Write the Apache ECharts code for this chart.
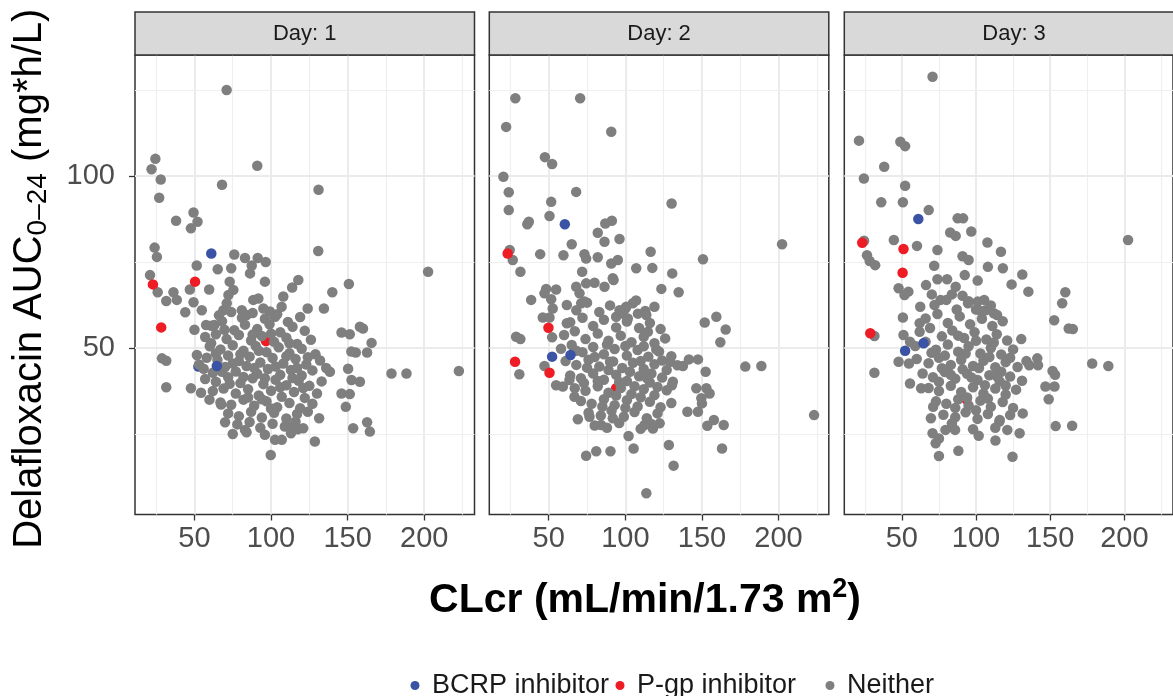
<!DOCTYPE html>
<html><head><meta charset="utf-8">
<script src="https://cdn.jsdelivr.net/npm/echarts@6/dist/echarts.min.js"></script>
<style>html,body{margin:0;padding:0;background:#fff}#c{width:1173px;height:696px}</style>
</head><body><div id="c"></div>
<script>
// ---------- DATA ----------
const days = ['Day: 1', 'Day: 2', 'Day: 3'];
const legendNames = ['BCRP inhibitor', 'P-gp inhibitor', 'Neither'];
const xTicks = [50, 100, 150, 200];
const yTicks = [50, 100];
const xMinorGrid = [25, 75, 125, 175, 225];
const yMinorGrid = [25, 75, 125];

// Day 1
const day1Neither = [
[71,125],[24.5,105],[22,102],[28,99],[91,103],[68,97.5],[131,96],[27,93.7],[49.4,89.4],[52,86.7],[47.7,84.8],[38,87],[24,79.2],[25.5,76.5],
[76,77.2],[83,76.2],[87.4,74],[91.3,76.2],[96.5,75],[86.3,71.7],[130.8,78.2],[51.5,74],[65.2,72.9],[74,73.2],[202.5,72.2],[21,71.2],
[26,66.2],[36.3,66.2],[31.6,63.7],[38.5,64],[44,60.4],[54.8,61],[49.4,63.3],[47,67],[59.6,67],[73,69.3],[75.4,66.9],[96,69.3],[113.8,67.6],
[117.8,69.8],[108,65],[123.9,61.5],[134.5,61.5],[140,66.2],[150.8,68.6],[28.8,47],[31.6,46.3],[31.6,38.6],[47.7,38.3],[51.6,48],
[146,54.5],[151.4,54],[158,56.2],[160,55.7],[165.6,51.5],[155.3,48.7],[162.7,48.7],[178.6,42.6],[188.4,42.6],[222.6,43.3],[138.4,43.1],
[150.3,44],[152.5,40.7],[158,40.2],[146,36.8],[151.4,36.6],[148.8,32.9],[153.6,26.7],[162.7,28.4],[164.5,25.7],[128.6,22.8],[131.4,29.6],
[121,26.7],[102.6,23.3],[107,23.3],[99.8,18.9],[75,25],[83,26.2],[70,28.4],
[50,55.3],[57.6,56.7],[63,56.7],[60.9,51.4],[69.6,55.3],[53,45.2],[54.3,37],[59.8,35],[67.4,33.6],[113,27],[117.4,26.4],[152.4,49],
[72.2,65.4],[71.1,63],[68.9,61],[106.9,62],[88.4,64],[91.7,64.4],[95,61.5],[99.3,60.6],[102.6,59.1],[80.9,61],[84.1,59.6],
[66,59.5],[74,60.5],[81,58.8],[88,60.2],[96,58.5],[104,59.8],[111,57.6],[119,59],
[61,56.5],[68,57.8],[76,55.2],[83,56.8],[91,55.5],[99,56.9],[106,54.6],[114,56.2],[122,55],
[57,53.2],[64,54],[71,52.6],[79,53.8],[87,52.2],[94,53.5],[102,51.8],[110,53],[117,51.2],[126,52.4],
[60,50.5],[67,49.6],[75,50.8],[82,49.2],[90,50.6],[97,48.8],[105,50.2],[112,48.5],[120,49.8],[129,48.2],
[58,47.2],[65,46.5],[72,47.8],[79,46.2],[86,47.5],[93,45.8],[101,47.1],[108,45.5],[116,46.8],[123,45.2],[132,46.4],
[56,44],[62,42.8],[70,44.5],[77,43.2],[84,44.8],[91,42.5],[98,43.9],[106,42.2],[113,43.6],[120,42],[127,43.5],[136,44.2],
[57,41],[64,40.2],[72,41.5],[80,39.8],[88,41.2],[95,39.5],[103,40.8],[110,39.2],[118,40.5],[125,39],[133,40.3],
[62,37.5],[69,38.2],[77,36.8],[85,38],[92,36.2],[100,37.6],[107,35.8],[115,37.2],[122,35.5],[130,36.8],
[67,34.2],[74,33.5],[82,35],[89,33.2],[97,34.5],[104,32.8],[112,34],[119,32.5],[127,33.8],
[72,31],[79,30.2],[87,31.5],[94,29.8],[102,31.2],[110,29.5],[117,30.8],[124,31.5],
[78,27.8],[86,28.5],[93,26.8],[101,28],[109,27.2],[116,28.6],
[84,25.5],[96,24.8],[113,25.2],
[75,45.5],[89,44.2],[103,44.6],[96,41.2],[82,41.6],[110,47.6],[68,43.1],[117,44.2],[88,53.9],[100,54.2],[112,51.4],[80,48.2],
[92,49.2],[106,38.6],[94,35.1],[121,38.4],[85,35.6],[100,32.4],[114,41.3],[73,39.6],[64,48.4],[124,47.3]
];
const day1PgpTop = [[22.9,68.5],[50.4,69.3],[28.3,56]];
const day1PgpUnder = [[96.7,52]];
const day1BcrpTop = [[61,77.5],[64.6,44.8]];
const day1BcrpUnder = [[52.6,44.6]];

// Day 2
const day2Neither = [
[28.2,122.6],[70.5,122.6],[22.2,114.3],[90.8,112.9],[47.5,105.5],[52.2,103.5],[20.4,99.8],[23.9,95.3],[67.9,95.4],[51.6,92.5],[130.2,92],
[23.9,90.1],[37,86.7],[36,86],[50.5,88.4],[82,83.5],[86.9,86.2],[91.2,87],[86.4,80.9],[96.2,81.7],[65,80.2],[24.5,78.5],[26.5,75.6],
[31.5,72.2],[44.4,77.3],[59.6,77],[73.3,77.3],[74.4,76],[82,76.4],[90.8,74.6],[95.1,75.6],[116.5,78],[202.3,80.2],[150.7,75.8],
[107.1,73.2],[117.6,73.3],[130.6,71.7],[71.8,72.2],[91.8,70.3],
[123.5,67.2],[134.8,66.2],[38.5,64],[48.3,67.2],[54.8,67],[47.2,65.9],[51.6,64.2],[67.9,67.8],[74.4,68.8],[79.9,69],[70.1,65.9],
[73.3,63.5],[71.2,63],[86.4,67.8],[52.6,61.5],[61.8,62.5],[61.8,57.2],[46.1,58.9],[50.5,58.9],[52.2,53.1],[28.7,53.3],[31.5,52.6],
[30.8,42.4],[47.2,44.8],[100.6,62],[104.9,63],[108.2,60],[113.7,59.6],[98.4,60],[94,59.1],[101.6,58.6],[96.2,61],[114.7,54.7],
[120.2,49.6],[151.8,57.4],[159.4,59.1],[165.5,55.4],[162,51.7],[178.3,44.6],[188.8,44.8],[223.2,30.5],[137.6,44.8],[141.5,46.7],
[147.4,46.7],[152.4,43.1],[146.3,38.3],[152.9,38.3],[155,36.8],[149.6,35.4],[140.5,31.5],[147.4,31.5],[153.5,27.4],[157.8,29.1],
[164.2,27.6],[163.1,20.8],[128.4,21.8],[131.5,15.8],[102.1,24.4],[105.4,20.8],[74.4,18.7],[81,20],[90.3,20],[113.7,7.8],[69,29.3],
[76.6,30],[84.2,27.6],[91.8,29.6],[112.5,27.6],[118,26.6],[122.4,28.1],[66.8,35.8],[54.8,39.2],[59.2,38.8],[63.5,40.7],
[92.3,69.8],[129.3,46],[130.4,39.2],[150,33.9],
[68,61],[75,63.2],[83,60.5],[90,62.4],[100,61.5],[107,63.8],[113,60.8],[119,62],
[64,57.5],[72,58.8],[79,56.4],[86,58.2],[94,56],[101,57.7],[109,55.8],[116,57.3],[123,55.5],
[60,53.8],[67,54.9],[74,52.6],[82,54.2],[89,52.1],[97,53.6],[104,51.7],[112,53.3],[119,51.4],[126,52.8],
[58,49.8],[65,50.9],[72,48.8],[79,50.3],[86,48.2],[93,49.7],[101,47.8],[108,49.4],[115,47.5],[122,49],[130,47.6],
[61,46.2],[68,45.1],[76,46.6],[83,44.6],[90,46],[98,44.2],[105,45.7],[112,43.9],[119,45.3],[127,43.6],[134,45],
[64,42],[71,41.2],[79,42.6],[86,40.8],[94,42.2],[101,40.4],[109,41.8],[116,40],[124,41.4],[131,40.2],
[67,38.3],[74,37.6],[82,38.9],[89,37],[97,38.4],[104,36.6],[112,38],[119,36.3],[127,37.7],
[71,34.6],[78,33.8],[86,35.1],[93,33.4],[101,34.8],[108,33],[116,34.4],[123,32.8],[130,34],
[76,31.2],[84,30.4],[91,31.8],[99,30],[106,31.4],[114,29.6],[121,31],
[80,27.5],[88,26.8],[96,28.2],[110,26.5],[117,27.9],
[75,44.3],[89,43.6],[103,43.1],[96,40.1],[82,40.4],[110,46.2],[68,49.2],[117,42.6],[88,51],[100,50.6],[112,50.5],[80,47.4],
[92,46.1],[106,38.9],[94,36.2],[121,38.7],[85,33],[100,32.6],[114,41.3],[73,39.8],[124,46.4],[110,35.7]
];
const day2PgpTop = [[23.2,77.5],[49.8,55.9],[28,46],[50.5,42.8]];
const day2PgpUnder = [[94,38.3]];
const day2BcrpTop = [[60.5,86],[64.2,48]];
const day2BcrpUnder = [[52.2,47.5]];

// Day 3
const day3Neither = [
[70.7,128.9],[21.1,110.3],[49,110],[52.2,108.7],[38.1,102.7],[24.4,99.3],[52.2,97.2],[36.1,92.4],[50.7,92.4],[68.1,90.1],[87.6,87.7],
[91.3,87.7],[82.6,83.6],[86.3,82.6],[96.8,83.9],[107.7,80.7],[116.8,78],[202.5,81.4],[24.5,81.2],[44.6,81.4],[60.2,79.7],[74,78.5],
[26.5,77],[28.3,75.3],[32,74.1],[71.8,73.9],[90.9,76.7],[95,75.6],[108,73.6],[118.1,73.2],[131.2,71.4],
[47.8,67.4],[54.4,66.4],[51.8,65.4],[66.3,68.3],[74,70],[80.5,70],[86.3,67.8],[92.4,71.2],[101.1,69.6],[124,68.5],[135.3,66.4],
[70.2,65.6],[76.1,64],[83.7,65.6],[90.9,65.2],[94.6,63],[101.1,63.5],[105.5,64],[100,61.2],[106.5,61],[112,60.1],[114.2,59.6],
[160.2,66.2],[158.1,63],[152.7,58.1],[162.5,55.7],[165.3,55.5],[130.5,52.6],[178.3,45.5],[189.2,44.8],[135.9,45],[141.3,47],
[151.6,43.3],[153.3,42.2],[146.8,38.8],[152.9,38.8],[149,35.1],[153.7,27.3],[164.8,27.4],[131.5,31],[129.4,25.2],[124.6,18.4],
[113.1,23.1],[101.8,24.5],[88.1,20.1],[75,18.6],[70.7,25.2],[75,23.7],[79.4,26.2],[72.8,22.3],[69.6,29.6],[83.7,28.1],[85.9,26.2],
[31.5,53.5],[31.5,42.8],[47.8,46],[50.7,58.9],[62.4,62],[62,57.2],[51.1,53.8],[55.5,51.8],[55.5,39.7],[63,38.3],
[54.8,45.5],[71.1,32.9],[121.1,26.2],[115.7,28.6],[141.8,45],
[72,62.5],[80,64],[87,61.2],[95,63.6],[103,60.8],[110,62.4],
[66,58.6],[74,59.9],[81,57.3],[89,59.2],[96,56.9],[104,58.5],[111,56.4],[118,57.8],
[62,54.7],[69,55.8],[77,53.4],[84,55.1],[92,52.9],[99,54.6],[107,52.5],[114,54],[121,52.2],
[59,50.6],[66,51.8],[73,49.5],[81,51],[88,48.9],[95,50.5],[103,48.4],[110,50],[117,48.1],[125,49.6],
[60,46.8],[68,45.6],[75,47.2],[83,45.1],[90,46.6],[98,44.8],[105,46.3],[113,44.4],[120,45.9],[128,44.5],[134,46.2],
[64,42.6],[71,41.5],[79,43],[86,41.1],[94,42.5],[101,40.7],[109,42.1],[116,40.3],[123,41.7],[131,40.5],
[68,38.4],[75,37.5],[83,39],[90,37.2],[98,38.6],[105,36.8],[113,38.2],[120,36.5],[127,37.9],
[73,34.5],[80,33.8],[88,35.1],[95,33.3],[103,34.7],[110,32.9],[118,34.3],[125,32.6],
[78,30.6],[86,29.9],[93,31.3],[101,29.4],[108,30.8],[116,29.1],[123,30.5],
[84,27],[98,26.4],[113,26.8],
[77,44.1],[91,43.8],[102,44.2],[97,41.4],[83,42.2],[109,47.4],[70,48.6],[117,43.1],[88,53.6],[100,52.1],[112,51.6],[79,47.8],
[93,48.4],[106,39.2],[94,35.6],[120,39.1],[86,32.6],[100,31.9],[114,41.8],[75,40.2],[123,47.2],[108,35.3]
];
const day3PgpTop = [[23.3,80.6],[51.1,78.8],[50.5,71.9],[28.7,54.3]];
const day3PgpUnder = [[93.5,35.1]];
const day3BcrpTop = [[61.1,87.5],[64.6,51.4]];
const day3BcrpUnder = [[52.2,49.2]];

const panels = [
  {neither: day1Neither, pgpTop: day1PgpTop, pgpUnder: day1PgpUnder, bcrpTop: day1BcrpTop, bcrpUnder: day1BcrpUnder},
  {neither: day2Neither, pgpTop: day2PgpTop, pgpUnder: day2PgpUnder, bcrpTop: day2BcrpTop, bcrpUnder: day2BcrpUnder},
  {neither: day3Neither, pgpTop: day3PgpTop, pgpUnder: day3PgpUnder, bcrpTop: day3BcrpTop, bcrpUnder: day3BcrpUnder}
];

// ---------- LAYOUT / STYLE ----------
const FONT = '"Liberation Sans", Arial, sans-serif';
const X_MIN = 11.2, X_MAX = 232.8, Y_MIN = 1.6, Y_MAX = 135.2;
const PANEL_LEFTS = [135, 489.3, 844.3];
const PW = 339.5, PTOP = 55, PH = 459.5, STRIP_TOP = 12;
const COLORS = {'BCRP inhibitor': '#3A53A4', 'P-gp inhibitor': '#EE1C25', 'Neither': '#7F7F7F'};
const SYM = 10.5;
const LEGEND_LEFTS = [410.5, 615.5, 825.5];

const gridLineData = [];
xTicks.forEach(v => gridLineData.push({xAxis: v, lineStyle: {color: '#EBEBEB', width: 2, type: 'solid'}}));
xMinorGrid.forEach(v => gridLineData.push({xAxis: v, lineStyle: {color: '#EFEFEF', width: 1.2, type: 'solid'}}));
yTicks.forEach(v => gridLineData.push({yAxis: v, lineStyle: {color: '#EBEBEB', width: 2, type: 'solid'}}));
yMinorGrid.forEach(v => gridLineData.push({yAxis: v, lineStyle: {color: '#EFEFEF', width: 1.2, type: 'solid'}}));

const grids = [], xAxes = [], yAxes = [], series = [], graphics = [];
PANEL_LEFTS.forEach((left, i) => {
  grids.push({left: left, top: PTOP, width: PW, height: PH, show: true, borderColor: '#333333', borderWidth: 1.5, backgroundColor: '#ffffff'});
  const xa = {
    gridIndex: i, type: 'value', min: X_MIN, max: X_MAX,
    splitLine: {show: false}, axisLine: {show: false},
    axisTick: {show: true, customValues: xTicks, length: 6, lineStyle: {color: '#333333', width: 1.3}},
    axisLabel: {customValues: xTicks, margin: 10, color: '#4D4D4D', fontSize: 29, fontFamily: FONT}
  };
  if (i === 1) {
    xa.name = 'CLcr (mL/min/1.73 m{sup|2})';
    xa.nameLocation = 'middle';
    xa.nameGap = 62;
    xa.nameTextStyle = {fontSize: 41, fontWeight: 'bold', color: '#000', fontFamily: FONT, lineHeight: 48, padding: [0, 28, 0, 0],
      rich: {sup: {fontSize: 27, fontWeight: 'bold', color: '#000', fontFamily: FONT, lineHeight: 22, verticalAlign: 'top'}}};
  }
  xAxes.push(xa);
  const ya = {
    gridIndex: i, type: 'value', min: Y_MIN, max: Y_MAX,
    splitLine: {show: false}, axisLine: {show: false},
    axisTick: i === 0 ? {show: true, customValues: yTicks, length: 6, lineStyle: {color: '#333333', width: 1.3}} : {show: false},
    axisLabel: i === 0 ? {customValues: yTicks, margin: 20, color: '#4D4D4D', fontSize: 29, fontFamily: FONT} : {show: false}
  };
  if (i === 0) {
    ya.name = 'Delafloxacin AUC{sub|0\u201324} (mg*h/L)';
    ya.nameLocation = 'middle';
    ya.nameRotate = 90;
    ya.nameGap = 83;
    ya.nameTextStyle = {fontSize: 40, color: '#000', fontFamily: FONT, lineHeight: 44, padding: [0, 0, 0, 12],
      rich: {sub: {fontSize: 28, color: '#000', fontFamily: FONT, lineHeight: 20, verticalAlign: 'bottom'}}};
  }
  yAxes.push(ya);

  const p = panels[i];
  const mk = (name, data, z) => ({
    type: 'scatter', name: name, xAxisIndex: i, yAxisIndex: i, data: data, z: z,
    symbol: 'circle', symbolSize: SYM, itemStyle: {color: COLORS[name], opacity: 1},
    silent: true, animation: false
  });
  series.push(mk('BCRP inhibitor', p.bcrpUnder, 9));
  series.push(mk('P-gp inhibitor', p.pgpUnder, 9));
  const g = mk('Neither', p.neither, 10);
  g.markLine = {silent: true, symbol: ['none', 'none'], label: {show: false}, animation: false, z: 1, data: gridLineData};
  series.push(g);
  series.push(mk('BCRP inhibitor', p.bcrpTop, 11));
  series.push(mk('P-gp inhibitor', p.pgpTop, 11));

  graphics.push({type: 'rect', z: 50, shape: {x: left, y: STRIP_TOP, width: PW, height: PTOP - STRIP_TOP},
    style: {fill: '#D9D9D9', stroke: '#333333', lineWidth: 1.5}});
  graphics.push({type: 'text', z: 51, x: left + PW / 2, y: (STRIP_TOP + PTOP) / 2,
    style: {text: days[i], fontSize: 22, fontFamily: FONT, fill: '#1A1A1A', align: 'center', verticalAlign: 'middle'}});
});

const legends = legendNames.map((n, k) => ({
  data: [n], left: LEGEND_LEFTS[k], top: 672, itemWidth: 24, itemHeight: 9, icon: 'circle',
  selectedMode: false, padding: 0,
  textStyle: {fontSize: 27, color: '#1A1A1A', fontFamily: FONT}
}));

const chart = echarts.init(document.getElementById('c'), null, {renderer: 'canvas'});
chart.setOption({
  animation: false,
  backgroundColor: '#ffffff',
  grid: grids, xAxis: xAxes, yAxis: yAxes, series: series,
  graphic: graphics,
  legend: legends
});
</script></body></html>
